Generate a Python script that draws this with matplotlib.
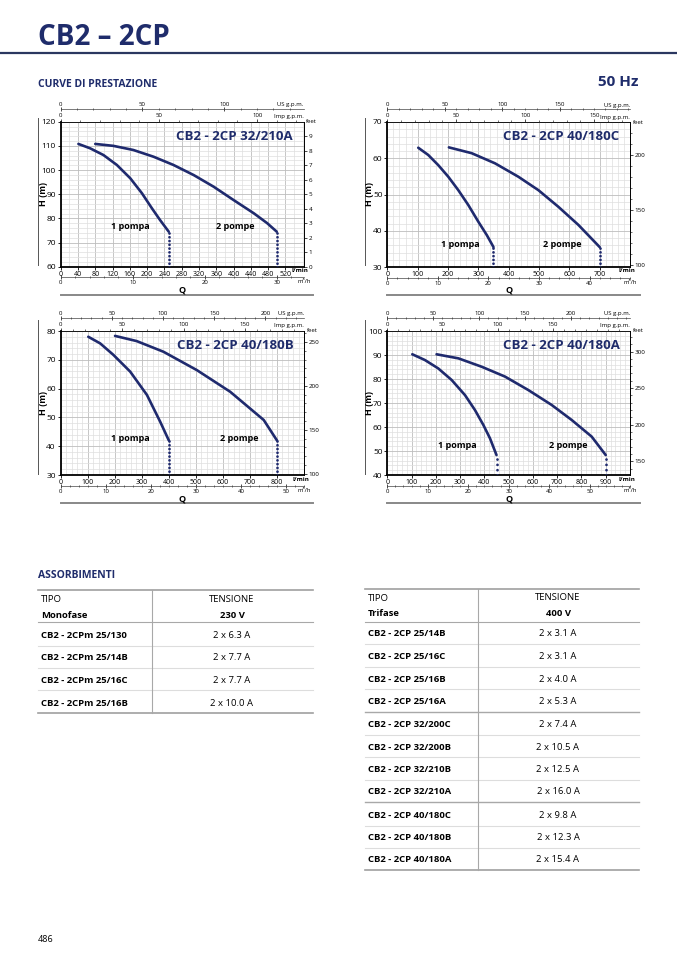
#!/usr/bin/env python3
import numpy as np
import matplotlib
matplotlib.use("Agg")
import matplotlib.pyplot as plt
from matplotlib.ticker import MultipleLocator

# ---------------- DATA ----------------
# CB2 - 2CP 32/210A  (Q l/min, H m)
Q1_32_210A = [41, 68, 99, 130, 161, 188, 211, 230, 250]
H1_32_210A = [110.8, 109.0, 106.2, 102.1, 96.6, 90.4, 84.2, 79.3, 74.5]
Q2_32_210A = [80, 122, 168, 215, 261, 308, 354, 400, 447, 478, 500]
H2_32_210A = [110.8, 110.0, 108.3, 105.5, 102.1, 97.9, 93.1, 87.6, 82.1, 78.0, 74.5]

# CB2 - 2CP 40/180C
Q1_40_180C = [102, 135, 168, 201, 234, 267, 300, 328, 350]
H1_40_180C = [62.9, 60.9, 58.1, 54.9, 51.2, 47.1, 42.5, 38.8, 35.5]
Q2_40_180C = [203, 278, 355, 432, 498, 564, 630, 700]
H2_40_180C = [63.0, 61.4, 58.6, 54.9, 51.2, 46.6, 41.6, 35.5]

# CB2 - 2CP 40/180B
Q1_40_180B = [102, 146, 195, 257, 319, 368, 400]
H1_40_180B = [78, 75.7, 71.7, 65.9, 57.8, 48.5, 42]
Q2_40_180B = [201, 281, 380, 504, 627, 751, 800]
H2_40_180B = [78.3, 76.5, 72.8, 66.4, 58.9, 49.1, 42]

# CB2 - 2CP 40/180A
Q1_40_180A = [103, 155, 210, 265, 320, 361, 396, 423, 450]
H1_40_180A = [90.3, 87.9, 84.4, 79.6, 73.3, 67.1, 60.8, 55.3, 48.3]
Q2_40_180A = [203, 293, 389, 485, 581, 677, 760, 842, 900]
H2_40_180A = [90.3, 88.6, 85.1, 81.0, 75.4, 69.2, 62.9, 56.0, 48.3]

MONO_TYPES = ["CB2 - 2CPm 25/130", "CB2 - 2CPm 25/14B",
              "CB2 - 2CPm 25/16C", "CB2 - 2CPm 25/16B"]
MONO_AMPS = ["2 x 6.3 A", "2 x 7.7 A", "2 x 7.7 A", "2 x 10.0 A"]

TRI_TYPES = ["CB2 - 2CP 25/14B", "CB2 - 2CP 25/16C", "CB2 - 2CP 25/16B",
             "CB2 - 2CP 25/16A", "CB2 - 2CP 32/200C", "CB2 - 2CP 32/200B",
             "CB2 - 2CP 32/210B", "CB2 - 2CP 32/210A", "CB2 - 2CP 40/180C",
             "CB2 - 2CP 40/180B", "CB2 - 2CP 40/180A"]
TRI_AMPS = ["2 x 3.1 A", "2 x 3.1 A", "2 x 4.0 A", "2 x 5.3 A", "2 x 7.4 A",
            "2 x 10.5 A", "2 x 12.5 A", "2 x 16.0 A", "2 x 9.8 A",
            "2 x 12.3 A", "2 x 15.4 A"]
# --------------------------------------

W, H = 677, 958
NAVY = "#1f2c6b"
CURVE = "#1f2a6e"
LPM_PER_USGPM = 3.78541
LPM_PER_IMPGPM = 4.54609
M_TO_FT = 3.28084

plt.rcParams['font.family'] = ['Liberation Sans Narrow', 'Open Sans', 'DejaVu Sans']


def px_rect(l, t, r, b):
    return [l / W, 1 - b / H, (r - l) / W, (b - t) / H]


def draw_chart(fig, box, xlim, ylim, xstep, xlast, title, curves, labels,
               us_ticks, imp_ticks, m3_ticks, ft_funcs, ft_ticks, ft_minor, dot_gap):
    l, t, r, b = box
    hp = b - t
    wp = r - l
    ax = fig.add_axes(px_rect(l, t, r, b))
    ax.set_xlim(*xlim)
    ax.set_ylim(*ylim)

    ax.set_xticks(np.arange(0, xlast + 1, xstep))
    ax.set_yticks(np.arange(ylim[0], ylim[1] + 1, 10))
    ax.xaxis.set_minor_locator(MultipleLocator(20))
    ax.yaxis.set_minor_locator(MultipleLocator(2))
    ax.grid(which='minor', color='#dedede', lw=0.5)
    ax.grid(which='major', color='#bdbdbd', lw=0.6)
    ax.set_axisbelow(True)
    ax.tick_params(which='major', length=2, width=0.6, labelsize=6, pad=1.5)
    ax.tick_params(axis='x', labelsize=5.0, pad=1)
    ax.tick_params(which='minor', length=0)
    for s in ('left', 'bottom'):
        ax.spines[s].set_linewidth(1.3)
    for s in ('top', 'right'):
        ax.spines[s].set_linewidth(0.6)

    for (q, h) in curves:
        ax.plot(q, h, color=CURVE, lw=1.9, solid_capstyle='round',
                solid_joinstyle='round', zorder=3)
        ax.plot([q[-1], q[-1]], [ylim[0], h[-1]], color=CURVE, lw=2.0,
                ls=(0, (0.01, dot_gap)), dash_capstyle='round', zorder=3)

    for (txt, qx, hy) in labels:
        ax.text(qx, hy, txt, ha='center', va='center', fontsize=6.5,
                weight='bold', color='black', zorder=4)

    ax.text(0.957, 0.9, title, transform=ax.transAxes, ha='right', va='center',
            fontsize=9.5, weight='bold', color=NAVY, zorder=4)

    # top: Imp g.p.m. on the frame, US g.p.m. above it
    imp = ax.secondary_xaxis('top', functions=(lambda q: q / LPM_PER_IMPGPM,
                                               lambda g: g * LPM_PER_IMPGPM))
    imp.set_xticks(imp_ticks)
    imp.xaxis.set_minor_locator(MultipleLocator(10))
    imp.tick_params(which='major', direction='out', length=2.5, width=0.5,
                    labelsize=4.3, pad=0.5)
    imp.tick_params(which='minor', direction='out', length=1.5, width=0.4)
    imp.spines['top'].set_linewidth(0.6)
    ax.text(1.0, 1.0 + 2.5 / hp, "Imp g.p.m.", transform=ax.transAxes,
            ha='right', va='bottom', fontsize=4.3)

    us_loc = 1.0 + 12.5 / hp
    us = ax.secondary_xaxis(us_loc, functions=(lambda q: q / LPM_PER_USGPM,
                                               lambda g: g * LPM_PER_USGPM))
    us.set_xticks(us_ticks)
    us.xaxis.set_minor_locator(MultipleLocator(10))
    us.tick_params(which='major', direction='inout', length=2.5, width=0.5,
                   labelsize=4.3, pad=0.5)
    us.tick_params(which='minor', direction='inout', length=1.5, width=0.4)
    us.spines['top'].set_linewidth(0.5)
    us.spines['top'].set_color('#444444')
    ax.text(1.0, us_loc + 2.0 / hp, "US g.p.m.", transform=ax.transAxes,
            ha='right', va='bottom', fontsize=4.3)

    # bottom: m3/h
    m3_loc = -10.5 / hp
    m3 = ax.secondary_xaxis(m3_loc, functions=(lambda q: q * 0.06,
                                               lambda m: m / 0.06))
    m3.set_xticks(m3_ticks)
    m3.xaxis.set_minor_locator(MultipleLocator(2))
    m3.tick_params(which='major', direction='inout', length=2.5, width=0.5,
                   labelsize=4.3, pad=1)
    m3.tick_params(which='minor', direction='inout', length=1.5, width=0.4)
    m3.spines['bottom'].set_linewidth(0.5)
    m3.spines['bottom'].set_color('#444444')
    ax.text(1.03, m3_loc - 2.0 / hp, "m\u00b3/h", transform=ax.transAxes,
            ha='right', va='top', fontsize=4.3)

    ax.text(1.0 + 5.0 / wp, -1.5 / hp, "l/min", transform=ax.transAxes, ha='right',
            va='top', fontsize=4.5, weight='bold')

    # right: feet
    ft = ax.secondary_yaxis('right', functions=ft_funcs)
    ft.set_yticks(ft_ticks)
    if ft_minor:
        ft.yaxis.set_minor_locator(MultipleLocator(ft_minor))
    ft.tick_params(which='major', length=2.5, width=0.5, labelsize=4.5, pad=1)
    ft.tick_params(which='minor', length=1.5, width=0.4)
    ft.spines['right'].set_linewidth(0.6)
    ax.text(1.012, 1.0, "feet", transform=ax.transAxes, ha='left',
            va='center', fontsize=4.3)

    ax.text(-0.072, 0.5, "H (m)", transform=ax.transAxes, rotation=90,
            ha='center', va='center', fontsize=6.5, weight='bold')
    ax.text(0.5, -23.5 / hp, "Q", transform=ax.transAxes, ha='center',
            va='center', fontsize=6.5, weight='bold')
    return ax


def main():
    fig = plt.figure(figsize=(W / 100, H / 100), dpi=100)

    # page overlay in pixel coordinates
    page = fig.add_axes([0, 0, 1, 1])
    page.set_xlim(0, W)
    page.set_ylim(H, 0)
    page.axis('off')

    page.text(38, 37, "CB2 \u2013 2CP", fontsize=20, weight='bold', color=NAVY,
              ha='left', va='center')
    page.plot([0, W], [52.5, 52.5], color='#2b3760', lw=1.6)
    page.text(38, 84, "CURVE DI PRESTAZIONE", fontsize=7.5, weight='bold',
              color=NAVY, ha='left', va='center')
    page.text(638, 82, "50 Hz", fontsize=11, weight='bold', color=NAVY,
              ha='right', va='center')

    # decorative side / bottom rules of the charts
    for x0, y0, y1 in [(38, 118, 265), (365, 118, 265), (38, 320, 474), (365, 320, 474)]:
        page.plot([x0, x0], [y0, y1], color='#555555', lw=0.7)
    for x0, x1, y0 in [(61, 313, 294.5), (387, 640, 294.5), (61, 313, 502.5), (387, 640, 502.5)]:
        page.plot([x0, x1], [y0, y0], color='#888888', lw=1.4)

    draw_chart(fig, (60.7, 121.7, 303.5, 266.7), (0, 562), (60, 120), 40, 520,
               "CB2 - 2CP 32/210A",
               [(Q1_32_210A, H1_32_210A), (Q2_32_210A, H2_32_210A)],
               [("1 pompa", 162, 76.8), ("2 pompe", 404, 76.8)],
               [0, 50, 100], [0, 50, 100], [0, 10, 20, 30],
               (lambda y: (y - 60) / 6.0, lambda f: f * 6.0 + 60),
               list(range(0, 10)), None, 1.35)

    feet = (lambda y: y * M_TO_FT, lambda f: f / M_TO_FT)

    draw_chart(fig, (387.3, 122, 630, 267), (0, 800), (30, 70), 100, 700,
               "CB2 - 2CP 40/180C",
               [(Q1_40_180C, H1_40_180C), (Q2_40_180C, H2_40_180C)],
               [("1 pompa", 240, 36.3), ("2 pompe", 576, 36.3)],
               [0, 50, 100, 150], [0, 50, 100, 150], [0, 10, 20, 30, 40],
               feet, [100, 150, 200], 10, 1.35)

    draw_chart(fig, (60.7, 331, 304, 475), (0, 900), (30, 80), 100, 800,
               "CB2 - 2CP 40/180B",
               [(Q1_40_180B, H1_40_180B), (Q2_40_180B, H2_40_180B)],
               [("1 pompa", 258, 42.6), ("2 pompe", 660, 42.6)],
               [0, 50, 100, 150, 200], [0, 50, 100, 150], [0, 10, 20, 30, 40, 50],
               feet, [100, 150, 200, 250], 10, 1.35)

    draw_chart(fig, (387.3, 331, 630, 475), (0, 1000), (40, 100), 100, 900,
               "CB2 - 2CP 40/180A",
               [(Q1_40_180A, H1_40_180A), (Q2_40_180A, H2_40_180A)],
               [("1 pompa", 290, 52.5), ("2 pompe", 747, 52.5)],
               [0, 50, 100, 150, 200], [0, 50, 100, 150], [0, 10, 20, 30, 40, 50],
               feet, [150, 200, 250, 300], 10, 1.9)

    # ---------- ASSORBIMENTI ----------
    page.text(38, 576, "ASSORBIMENTI", fontsize=7.5, weight='bold', color=NAVY,
              ha='left', va='center')

    fs = 6.8
    # left table (monofase)
    lx0, lx1, ldiv, lval = 38, 313, 152, 232
    page.plot([lx0, lx1], [590, 590], color='#a0a0a0', lw=1.2)
    page.plot([lx0, lx1], [622, 622], color='#a8a8a8', lw=0.8)
    for y in [646, 667.5, 690]:
        page.plot([lx0, lx1], [y, y], color='#dddddd', lw=0.8)
    page.plot([lx0, lx1], [713, 713], color='#a0a0a0', lw=1.2)
    page.plot([ldiv, ldiv], [590, 713], color='#a8a8a8', lw=0.8)
    page.text(41, 599, "TIPO", fontsize=fs, ha='left', va='center')
    page.text(41, 615.5, "Monofase", fontsize=fs, weight='bold', ha='left', va='center')
    page.text(lval, 599, "TENSIONE", fontsize=fs, ha='center', va='center')
    page.text(lval, 615.5, "230 V", fontsize=fs, weight='bold', ha='center', va='center')
    for i, (name, amp) in enumerate(zip(MONO_TYPES, MONO_AMPS)):
        y = 635.5 + i * 22.5
        page.text(41, y, name, fontsize=fs, weight='bold', ha='left', va='center')
        page.text(lval, y, amp, fontsize=fs, ha='center', va='center')

    # right table (trifase)
    rx0, rx1, rdiv, rval = 365, 639, 478, 558
    row_lines = [644, 667, 689, 712, 735, 757, 780, 802, 826, 848, 870]
    page.plot([rx0, rx1], [589, 589], color='#a0a0a0', lw=1.2)
    page.plot([rx0, rx1], [622, 622], color='#a8a8a8', lw=0.8)
    for k, y in enumerate(row_lines):
        if k == len(row_lines) - 1:
            col, lw = '#a0a0a0', 1.2
        elif k in (3, 7):
            col, lw = '#a8a8a8', 1.0
        else:
            col, lw = '#dddddd', 0.8
        page.plot([rx0, rx1], [y, y], color=col, lw=lw)
    page.plot([rdiv, rdiv], [589, 870], color='#a8a8a8', lw=0.8)
    page.text(368, 598.5, "TIPO", fontsize=fs, ha='left', va='center')
    page.text(368, 614, "Trifase", fontsize=fs, weight='bold', ha='left', va='center')
    page.text(rval, 598, "TENSIONE", fontsize=fs, ha='center', va='center')
    page.text(rval, 614, "400 V", fontsize=fs, weight='bold', ha='center', va='center')
    tops = [622] + row_lines[:-1]
    for name, amp, y0, y1 in zip(TRI_TYPES, TRI_AMPS, tops, row_lines):
        y = (y0 + y1) / 2 + 1
        page.text(368, y, name, fontsize=fs, weight='bold', ha='left', va='center')
        page.text(rval, y, amp, fontsize=fs, ha='center', va='center')

    page.text(38, 940, "486", fontsize=6.5, ha='left', va='center')

    fig.savefig("out.png", dpi=100)
    plt.close(fig)


if __name__ == "__main__":
    main()
